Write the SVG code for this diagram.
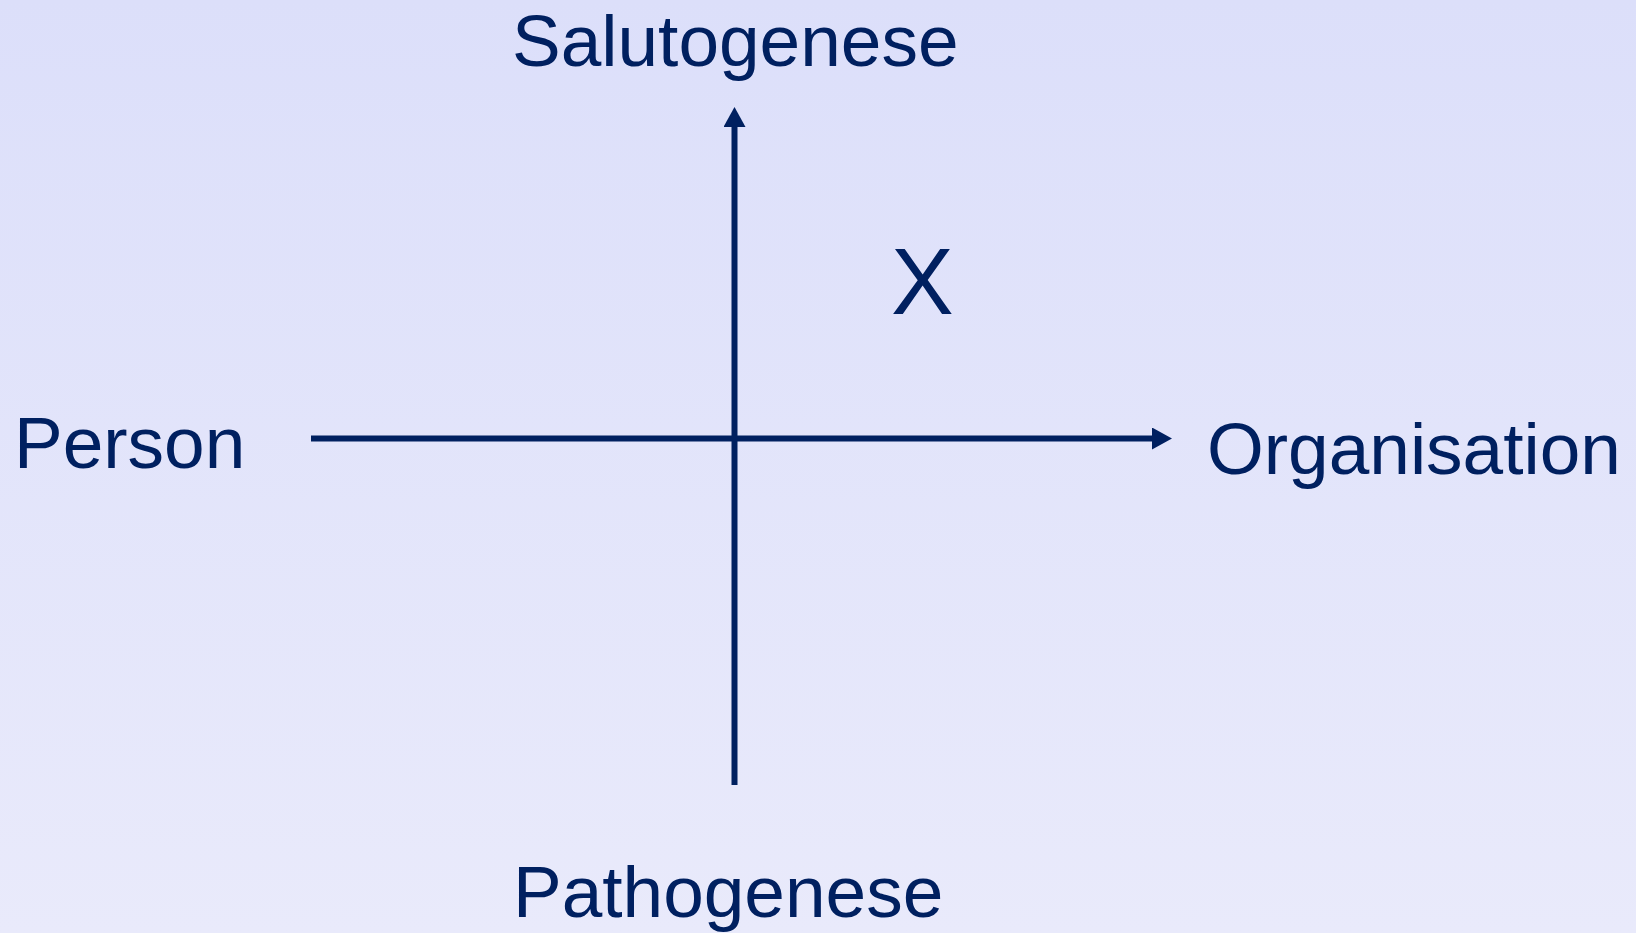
<svg xmlns="http://www.w3.org/2000/svg" width="1636" height="933" viewBox="0 0 1636 933">
  <defs>
    <linearGradient id="bg" x1="0" y1="0" x2="0" y2="1">
      <stop offset="0" stop-color="#dcdffa"/>
      <stop offset="1" stop-color="#e9eafb"/>
    </linearGradient>
    <marker id="arrow" markerUnits="userSpaceOnUse" markerWidth="22" markerHeight="22" refX="3" refY="11" orient="auto" viewBox="0 0 22 22">
      <path d="M0,0 L20,11 L0,22 z" fill="#002060"/>
    </marker>
    <style>
      .lbl { font-family: "Liberation Sans", Arial, sans-serif; font-size: 73px; fill: #002060; }
      .axis { stroke: #002060; stroke-width: 6; fill: none; }
    </style>
  </defs>
  <rect x="0" y="0" width="1636" height="933" fill="url(#bg)"/>
  <g id="connectors">
    <line class="axis" x1="311" y1="438.5" x2="1155" y2="438.5" marker-end="url(#arrow)"/>
    <line class="axis" x1="734.5" y1="785" x2="734.5" y2="124" marker-end="url(#arrow)"/>
  </g>
  <g id="salutogenese"><text class="lbl" x="512" y="66">Salutogenese</text></g>
  <g id="pathogenese"><text class="lbl" x="513" y="917">Pathogenese</text></g>
  <g id="person"><text class="lbl" x="14" y="468">Person</text></g>
  <g id="organisation"><text class="lbl" x="1207" y="474">Organisation</text></g>
  <g id="x-mark"><text class="lbl" x="891" y="314" style="font-size:94px">X</text></g>
</svg>
